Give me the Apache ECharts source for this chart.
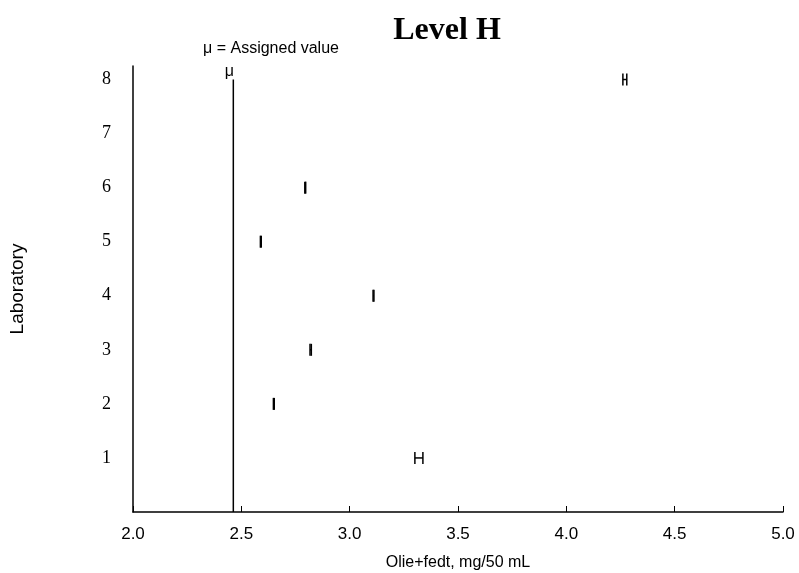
<!DOCTYPE html>
<html>
<head>
<meta charset="utf-8">
<script src="https://cdn.jsdelivr.net/npm/echarts@6/dist/echarts.min.js"></script>
<style>html,body{margin:0;padding:0;background:#fff}#c{width:799px;height:573px}</style>
</head>
<body>
<div id="c"></div>
<script>
const labs = [1, 2, 3, 4, 5, 6, 8];
const means = [3.32, 2.65, 2.82, 3.11, 2.59, 2.795, 4.268];
const lows = [3.301, 2.648, 2.817, 3.108, 2.588, 2.793, 4.261];
const highs = [3.338, 2.652, 2.823, 3.112, 2.592, 2.797, 4.279];
const assignedValue = 2.463;
const xTicks = [2.0, 2.5, 3.0, 3.5, 4.0, 4.5, 5.0];
const yLabels = [1, 2, 3, 4, 5, 6, 7, 8];

const chart = echarts.init(document.getElementById('c'));
const data = labs.map((l, i) => [means[i], l, lows[i], highs[i]]);

chart.setOption({
  animation: false,
  backgroundColor: '#fff',
  title: {
    text: 'Level H', left: 442, top: 10, textAlign: 'center',
    textStyle: { fontFamily: 'Liberation Serif', fontWeight: 'bold', fontSize: 32, color: '#000' }
  },
  grid: { left: 133, right: 16, top: 66, bottom: 61, outerBoundsMode: 'none', containLabel: false },
  xAxis: {
    type: 'value', min: 2.0, max: 5.0, interval: 0.5,
    name: 'Olie+fedt, mg/50 mL', nameLocation: 'middle', nameGap: 43,
    nameTextStyle: { fontFamily: 'Liberation Sans', fontSize: 16, color: '#000' },
    axisLine: { show: true, lineStyle: { color: '#000', width: 1.5 } },
    axisTick: { show: true, inside: true, length: 6, lineStyle: { color: '#000', width: 1 } },
    axisLabel: { fontFamily: 'Liberation Sans', fontSize: 17, color: '#000', margin: 14,
      formatter: v => xTicks.includes(+v.toFixed(1)) ? v.toFixed(1) : '' },
    splitLine: { show: false }
  },
  yAxis: {
    type: 'value', min: 0, max: 8.25, interval: 1,
    name: 'Laboratory', nameLocation: 'middle', nameGap: 106, nameRotate: 90,
    nameTextStyle: { fontFamily: 'Liberation Sans', fontSize: 19, color: '#000' },
    axisLine: { show: true, lineStyle: { color: '#000', width: 1.5 } },
    axisTick: { show: false },
    axisLabel: { fontFamily: 'Liberation Serif', fontSize: 18, color: '#000', margin: 22,
      formatter: v => yLabels.includes(v) ? String(v) : '' },
    splitLine: { show: false }
  },
  graphic: [{
    type: 'text', left: 203, top: 41,
    style: { text: 'μ = Assigned value', font: '16px "Liberation Sans"', fill: '#000' }
  }],
  series: [
    {
      type: 'line',
      data: [[assignedValue, 0], [assignedValue, 8]],
      symbol: 'none',
      lineStyle: { color: '#000', width: 1.5 },
      markPoint: {
        symbol: 'circle', symbolSize: 0,
        data: [{ coord: [assignedValue, 8] }],
        label: { show: true, formatter: 'μ', position: 'top', offset: [-4, 5],
          fontFamily: 'Liberation Sans', fontSize: 16, color: '#000' }
      }
    },
    {
      type: 'custom',
      data: data,
      renderItem: function (params, api) {
        const m = api.coord([api.value(0), api.value(1)]);
        const lo = api.coord([api.value(2), api.value(1)]);
        const hi = api.coord([api.value(3), api.value(1)]);
        const st = { stroke: '#000', lineWidth: 1.5 };
        return { type: 'group', children: [
          { type: 'line', shape: { x1: lo[0], y1: m[1], x2: hi[0], y2: m[1] }, style: st },
          { type: 'line', shape: { x1: lo[0], y1: m[1] - 6, x2: lo[0], y2: m[1] + 6 }, style: st },
          { type: 'line', shape: { x1: hi[0], y1: m[1] - 6, x2: hi[0], y2: m[1] + 6 }, style: st }
        ] };
      }
    }
  ]
});
</script>
</body>
</html>
